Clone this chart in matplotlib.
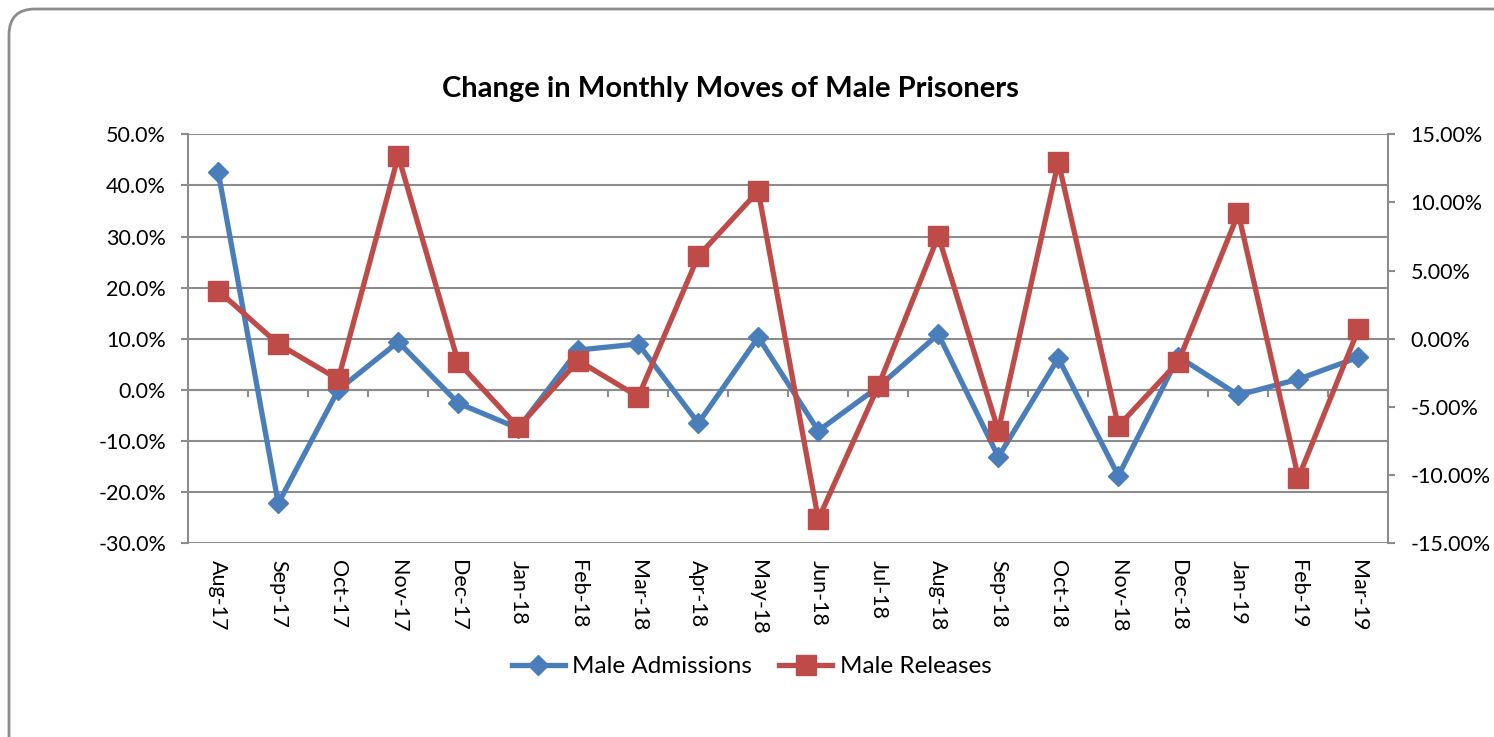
import matplotlib.pyplot as plt
from matplotlib.patches import FancyBboxPatch
from matplotlib.ticker import FuncFormatter, MultipleLocator
from matplotlib.transforms import IdentityTransform

plt.rcParams["font.family"] = ["Lato", "DejaVu Sans"]

months = ["Aug-17", "Sep-17", "Oct-17", "Nov-17", "Dec-17", "Jan-18", "Feb-18",
          "Mar-18", "Apr-18", "May-18", "Jun-18", "Jul-18", "Aug-18", "Sep-18",
          "Oct-18", "Nov-18", "Dec-18", "Jan-19", "Feb-19", "Mar-19"]

# monthly % change, admissions on the left axis, releases on the right axis
admissions = [42.6, -22.2, 0.0, 9.4, -2.6, -7.5, 7.8, 9.0, -6.5, 10.3,
              -8.0, 0.6, 10.9, -13.1, 6.2, -16.8, 6.5, -1.0, 2.1, 6.4]
releases = [3.53, -0.38, -2.97, 13.41, -1.73, -6.5, -1.6, -4.25, 6.07, 10.84,
            -13.24, -3.46, 7.54, -6.74, 12.99, -6.4, -1.68, 9.2, -10.19, 0.69]

BLUE = "#4A7EBB"
RED = "#BE4B48"
GRID = "#8C8C8C"
TEXT = "#000000"
FS = 15.5
LEG_FS = 17.5

fig = plt.figure(figsize=(14.94, 7.37), dpi=100)
fig.set_facecolor("white")

# rounded outer frame
frame = FancyBboxPatch((9, -40), 1530, 768, boxstyle="round,pad=0,rounding_size=26",
                       transform=IdentityTransform(), facecolor="none",
                       edgecolor=GRID, linewidth=2)
fig.add_artist(frame)

ax = fig.add_axes([0.126, 0.2628, 0.8033, 0.555])
ax2 = ax.twinx()

x = range(len(months))
ax.plot(x, admissions, color=BLUE, lw=3.8, marker="D", ms=10.5,
        label="Male Admissions", zorder=3)
ax2.plot(x, releases, color=RED, lw=3.8, marker="s", ms=14,
         label="Male Releases", zorder=3)

ax.set_xlim(-0.5, len(months) - 0.5)
ax.set_ylim(-30, 50)
ax.yaxis.set_major_locator(MultipleLocator(10))
ax.yaxis.set_major_formatter(FuncFormatter(lambda v, p: f"{v:.1f}%"))
ax2.set_ylim(-15, 15)
ax2.yaxis.set_major_locator(MultipleLocator(5))
ax2.yaxis.set_major_formatter(FuncFormatter(lambda v, p: f"{v:.2f}%"))

ax.grid(axis="y", color=GRID, lw=1.5)
ax.set_axisbelow(True)
for a in (ax, ax2):
    for s in a.spines.values():
        s.set_visible(False)
ax.spines["left"].set_visible(True)
ax.spines["left"].set_color(GRID)
ax.spines["left"].set_linewidth(1.5)
ax2.spines["right"].set_visible(True)
ax2.spines["right"].set_color(GRID)
ax2.spines["right"].set_linewidth(1.5)

ax.tick_params(axis="y", direction="out", length=5, width=1.5, color=GRID,
               labelsize=FS, labelcolor=TEXT, pad=11)
ax2.tick_params(axis="y", direction="out", length=5, width=1.5, color=GRID,
                labelsize=FS, labelcolor=TEXT, pad=11)

ax.set_xticks(list(x))
ax.set_xticklabels(months, rotation=270, fontsize=FS, color=TEXT)
ax.tick_params(axis="x", length=0, pad=12)

# category axis line crosses at 0% with ticks between categories
zero_axis = ax.secondary_xaxis(30 / 80)
zero_axis.set_xticks([i - 0.5 for i in range(len(months) + 1)])
zero_axis.set_xticklabels([])
zero_axis.tick_params(direction="out", length=5, width=1.5, color=GRID)
zero_axis.spines["bottom"].set_color(GRID)
zero_axis.spines["bottom"].set_linewidth(1.5)

fig.text(0.489, 0.879, "Change in Monthly Moves of Male Prisoners",
         ha="center", va="center", fontsize=21, fontweight="bold", color=TEXT)

h1, l1 = ax.get_legend_handles_labels()
h2, l2 = ax2.get_legend_handles_labels()
fig.legend(h1 + h2, l1 + l2, loc="center", bbox_to_anchor=(0.503, 0.095),
           ncol=2, frameon=False, fontsize=LEG_FS, handlelength=2.2,
           handletextpad=0.3, columnspacing=1.1)

fig.savefig("out.png", dpi=100, facecolor="white")
